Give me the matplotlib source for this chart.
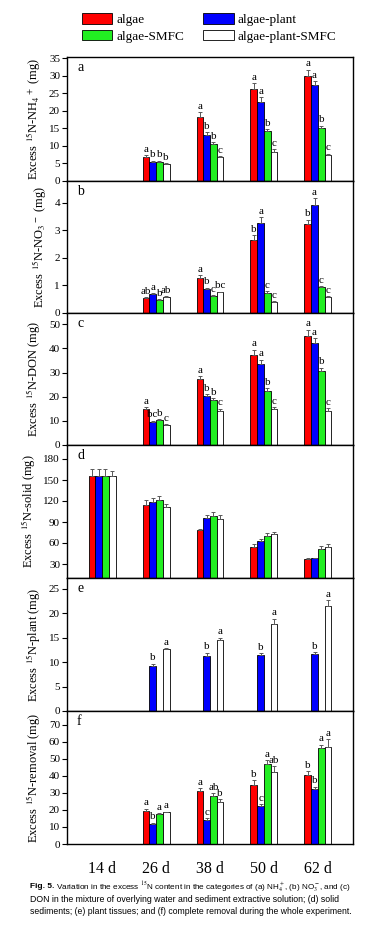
# Excess 15N in the six pools (a-f) for the four treatments, sampled 14-62 d

import numpy as np
import matplotlib
matplotlib.use("Agg")
import matplotlib.pyplot as plt
from matplotlib.patches import Patch

plt.rcParams['font.family'] = ['Liberation Serif', 'DejaVu Serif']
plt.rcParams['mathtext.fontset'] = 'stix'

nan = np.nan
days = ["14 d", "26 d", "38 d", "50 d", "62 d"]
treatments = ["algae", "algae-plant", "algae-SMFC", "algae-plant-SMFC"]
colors = ["#ff0000", "#0000ff", "#22ee22", "#ffffff"]

# (a) NH4+
nh4 = [[nan, 6.9, 18.4, 26.3, 30.1],
       [nan, 5.5, 13.1, 22.6, 27.3],
       [nan, 5.5, 10.5, 14.3, 15.2],
       [nan, 4.9, 6.9, 8.4, 7.5]]
nh4_err = [[nan, 0.5, 1.2, 1.7, 1.7],
           [nan, 0.3, 0.8, 1.3, 1.3],
           [nan, 0.3, 0.5, 0.6, 0.6],
           [nan, 0.2, 0.3, 0.6, 0.3]]
nh4_sig = [["", "a", "a", "a", "a"],
           ["", "b", "b", "a", "a"],
           ["", "b", "b", "b", "b"],
           ["", "b", "c", "c", "c"]]

# (b) NO3-
no3 = [[nan, 0.53, 1.26, 2.64, 3.24],
       [nan, 0.68, 0.87, 3.28, 3.93],
       [nan, 0.47, 0.61, 0.74, 0.93],
       [nan, 0.57, 0.75, 0.40, 0.57]]
no3_err = [[nan, 0.05, 0.11, 0.18, 0.15],
           [nan, 0.03, 0.05, 0.20, 0.23],
           [nan, 0.03, 0.04, 0.05, 0.04],
           [nan, 0.03, 0.03, 0.03, 0.03]]
no3_sig = [["", "ab", "a", "b", "b"],
           ["", "a", "b", "a", "a"],
           ["", "b", "c", "c", "c"],
           ["", "ab", "bc", "c", "c"]]

# (c) DON
don = [[nan, 14.8, 27.3, 37.5, 45.2],
       [nan, 9.6, 20.1, 33.4, 42.2],
       [nan, 10.2, 18.6, 22.4, 30.5],
       [nan, 8.3, 14.1, 14.8, 14.1]]
don_err = [[nan, 0.8, 1.2, 2.0, 2.6],
           [nan, 0.5, 1.0, 1.9, 2.1],
           [nan, 0.5, 0.9, 1.1, 1.6],
           [nan, 0.4, 1.0, 0.9, 1.1]]
don_sig = [["", "a", "a", "a", "a"],
           ["", "bc", "b", "a", "a"],
           ["", "b", "b", "b", "b"],
           ["", "c", "c", "c", "c"]]

# (d) solid sediments
solid = [[156, 113.8, 78.1, 53.8, 36.7],
         [156, 119.0, 95.7, 62.4, 38.1],
         [156, 121.9, 98.1, 70.5, 51.9],
         [156, 111.0, 94.8, 72.4, 54.8]]
solid_err = [[9.5, 7.0, 2.4, 5.0, 2.0],
             [9.5, 5.7, 4.3, 3.0, 1.0],
             [9.5, 4.8, 6.0, 4.3, 3.3],
             [7.0, 5.0, 5.5, 4.0, 4.0]]

# (e) plant tissues
plant = [[nan, nan, nan, nan, nan],
         [nan, 9.3, 11.3, 11.5, 11.6],
         [nan, nan, nan, nan, nan],
         [nan, 12.6, 14.5, 17.8, 21.5]]
plant_err = [[nan, nan, nan, nan, nan],
             [nan, 0.4, 0.6, 0.3, 0.4],
             [nan, nan, nan, nan, nan],
             [nan, 0.3, 0.5, 1.1, 1.2]]
plant_sig = [["", "", "", "", ""],
             ["", "b", "b", "b", "b"],
             ["", "", "", "", ""],
             ["", "a", "a", "a", "a"]]

# (f) complete removal
removal = [[nan, 19.4, 31.2, 34.9, 40.6],
           [nan, 11.8, 14.1, 22.4, 32.4],
           [nan, 17.6, 28.2, 47.1, 56.7],
           [nan, 18.6, 24.7, 42.4, 57.1]]
removal_err = [[nan, 1.4, 1.7, 2.7, 2.3],
               [nan, 0.8, 1.2, 1.2, 1.3],
               [nan, 0.6, 1.6, 2.0, 1.7],
               [nan, 0.4, 1.6, 3.5, 4.5]]
removal_sig = [["", "a", "a", "b", "b"],
               ["", "b", "c", "c", "b"],
               ["", "a", "ab", "a", "a"],
               ["", "a", "b", "ab", "a"]]

panels = [
    ("a", nh4, nh4_err, nh4_sig, r"Excess $^{15}$N-NH$_4$$^+$ (mg)", (0, 35.4), np.arange(0, 36, 5)),
    ("b", no3, no3_err, no3_sig, r"Excess $^{15}$N-NO$_3$$^-$ (mg)", (0, 4.79), np.arange(0, 5, 1)),
    ("c", don, don_err, don_sig, r"Excess $^{15}$N-DON (mg)", (0, 54.7), np.arange(0, 51, 10)),
    ("d", solid, solid_err, None, r"Excess $^{15}$N-solid (mg)", (10, 200), np.arange(30, 181, 30)),
    ("e", plant, plant_err, plant_sig, r"Excess $^{15}$N-plant (mg)", (0, 27.2), np.arange(0, 26, 5)),
    ("f", removal, removal_err, removal_sig, r"Excess $^{15}$N-removal (mg)", (0, 78.2), np.arange(0, 71, 10)),
]

W, H = 370, 931
fig = plt.figure(figsize=(W / 100, H / 100), dpi=100)
edges = [57, 181, 313, 445, 578, 711, 844]
left, right = 67, 353
width = 0.125
x = np.arange(len(days))

axes = []
for k, (tag, vals, errs, sig, ylabel, ylim, yticks) in enumerate(panels):
    top, bot = edges[k], edges[k + 1]
    ax = fig.add_axes([left / W, 1 - bot / H, (right - left) / W, (bot - top) / H])
    axes.append(ax)
    span = ylim[1] - ylim[0]
    for j in range(4):
        v = np.array(vals[j], dtype=float)
        e = np.array(errs[j], dtype=float)
        ok = ~np.isnan(v)
        if not ok.any():
            continue
        xs = x[ok] + (j - 1.5) * width
        ax.bar(xs, v[ok] - ylim[0], width, bottom=ylim[0], color=colors[j],
               edgecolor="black", linewidth=0.6, zorder=2)
        ax.errorbar(xs, v[ok], yerr=[np.zeros(ok.sum()), e[ok]], fmt="none",
                    ecolor="0.35", elinewidth=0.7, capsize=1.6, capthick=0.7, zorder=3)
        if sig is not None:
            for xi, vi, ei, s in zip(xs, v[ok], e[ok], np.array(sig[j])[ok]):
                if s:
                    ax.text(xi, vi + ei + 0.01 * span, s, ha="center", va="bottom",
                            fontsize=8)
    ax.set_xlim(-0.65, 4.65)
    ax.set_ylim(*ylim)
    ax.set_yticks(yticks)
    ax.set_ylabel(ylabel, fontsize=9, labelpad=4)
    ax.tick_params(axis="y", direction="out", length=3.5, width=0.8, pad=1.5, labelsize=8)
    ax.tick_params(axis="x", length=0)
    ax.set_xticks(x)
    if k < len(panels) - 1:
        ax.set_xticklabels([])
    else:
        ax.set_xticklabels(days, fontsize=11.5)
        ax.tick_params(axis="x", pad=12)
    for sp in ax.spines.values():
        sp.set_linewidth(1.0)
    ax.text(0.035, 0.97, tag, transform=ax.transAxes, ha="left", va="top", fontsize=10)

fig.align_ylabels(axes)

# legend filled column by column, so order the entries to read row by row
order = [0, 2, 1, 3]
handles = [Patch(facecolor=colors[i], edgecolor="black", linewidth=0.6) for i in order]
fig.legend(handles, [treatments[i] for i in order], ncol=2, loc="upper left",
           bbox_to_anchor=(82 / W, 1 - 13 / H), frameon=False, fontsize=9.5,
           handlelength=2.3, handleheight=0.85, handletextpad=0.3,
           columnspacing=1.45, labelspacing=0.3, borderpad=0, borderaxespad=0)

cap = ["Fig. 5.",
       r" Variation in the excess $^{15}$N content in the categories of (a) NH$_4^+$, (b) NO$_3^-$, and (c)",
       "DON in the mixture of overlying water and sediment extractive solution; (d) solid",
       "sediments; (e) plant tissues; and (f) complete removal during the whole experiment."]
cap_font = ["Liberation Sans Narrow", "Liberation Sans", "DejaVu Sans"]
t0 = fig.text(30 / W, 1 - 887 / H, cap[0], fontsize=6.0, fontweight="bold",
              family=cap_font, va="center")
fig.text(0, 0, "")
plt.annotate(cap[1], xy=(1, 0.5), xycoords=t0, va="center", ha="left",
             fontsize=5.9, family=cap_font, annotation_clip=False)
fig.text(30 / W, 1 - 900 / H, cap[2], fontsize=6.3, family=cap_font, va="center")
fig.text(30 / W, 1 - 912 / H, cap[3], fontsize=6.2, family=cap_font, va="center")

fig.savefig("out.png", dpi=100)
